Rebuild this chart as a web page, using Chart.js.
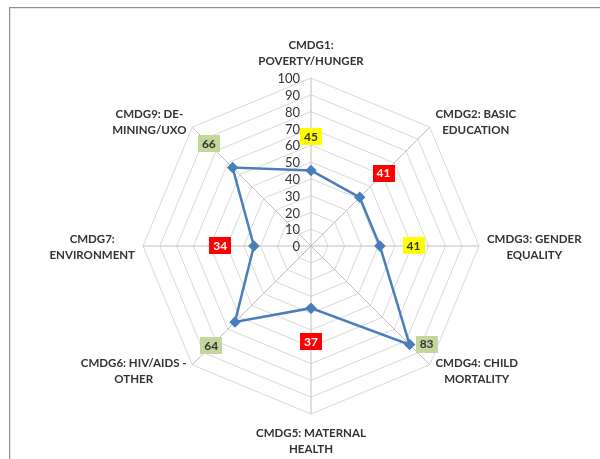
<!DOCTYPE html>
<html>
<head>
<meta charset="utf-8">
<script src="https://cdn.jsdelivr.net/npm/chart.js@4"></script>
<style>
  html, body { margin: 0; padding: 0; background: #fff; }
  #wrap { position: relative; width: 600px; height: 459px; overflow: hidden; }
  #frame { position: absolute; left: 9px; top: 7px; width: 640px; height: 500px; border: 1px solid #8e8e8e; box-shadow: inset 1px 1px 0 #e6e6e6; }
  canvas { position: absolute; left: 0; top: 0; }
</style>
</head>
<body>
<div id="wrap"><div id="frame"></div><canvas id="radar-chart" width="600" height="459"></canvas></div>
<script>
const categories = [
  ["CMDG1:", "POVERTY/HUNGER"],
  ["CMDG2: BASIC", "EDUCATION"],
  ["CMDG3: GENDER", "EQUALITY"],
  ["CMDG4: CHILD", "MORTALITY"],
  ["CMDG5: MATERNAL", "HEALTH"],
  ["CMDG6: HIV/AIDS -", "OTHER"],
  ["CMDG7:", "ENVIRONMENT"],
  ["CMDG9: DE-", "MINING/UXO"],
];
const scores = [45, 41, 41, 83, 37, 64, 34, 66];
const ratings = ["yellow", "red", "yellow", "green", "red", "green", "red", "green"];
const scaleTicks = [0, 10, 20, 30, 40, 50, 60, 70, 80, 90, 100];

// labels, ticks and value boxes drawn like the excel original
const overlay = {
  id: "overlay",
  afterDatasetsDraw(chart, args, opts) {
    const r = chart.scales.r;
    const ctx = chart.ctx;
    ctx.save();
    ctx.textBaseline = "middle";

    ctx.font = opts.tickFont;
    ctx.fillStyle = opts.textColor;
    ctx.textAlign = "right";
    r.ticks.forEach((t) => {
      const y = r.yCenter - r.getDistanceFromCenterForValue(t.value);
      ctx.fillText(String(t.value), r.xCenter - 11, y + 1);
    });

    ctx.font = opts.labelFont;
    ctx.textAlign = "center";
    chart.data.labels.forEach((lines, i) => {
      const p = r.getPointPosition(i, r.drawingArea + 8);
      const cos = Math.cos(p.angle);
      const sin = Math.sin(p.angle);
      const w = Math.max(...lines.map((s) => ctx.measureText(s).width));
      const h = lines.length * opts.lineHeight;
      let cx = p.x;
      let cy = p.y;
      if (cos > 0.1) cx += w / 2;
      else if (cos < -0.1) cx -= w / 2;
      else cy += Math.sign(sin) * (h / 2 + 2);
      lines.forEach((s, k) => {
        ctx.fillText(s, cx, cy - h / 2 + opts.lineHeight / 2 + k * opts.lineHeight + 1);
      });
    });

    const meta = chart.getDatasetMeta(0);
    ctx.font = opts.valueFont;
    chart.data.datasets[0].data.forEach((v, i) => {
      let x, y;
      if (opts.placement[i] === "right") {
        x = meta.data[i].x + 17;
        y = meta.data[i].y;
      } else {
        const p = r.getPointPositionForValue(i, v + 20);
        x = p.x;
        y = p.y;
      }
      const s = String(v);
      const tw = ctx.measureText(s).width;
      const st = opts.status[ratings[i]];
      ctx.fillStyle = st.bg;
      ctx.fillRect(Math.round(x - tw / 2 - 4), Math.round(y - 9), Math.round(tw + 8), 17);
      ctx.fillStyle = st.fg;
      ctx.fillText(s, x, y);
    });
    ctx.restore();
  },
};

new Chart(document.getElementById("radar-chart"), {
  type: "radar",
  data: {
    labels: categories,
    datasets: [
      {
        data: scores,
        borderColor: "#4a7ebb",
        backgroundColor: "#4a7ebb",
        borderWidth: 2.5,
        pointStyle: "rectRot",
        pointRadius: 4,
        pointBackgroundColor: "#4a7ebb",
        pointBorderColor: "#4a7ebb",
        fill: false,
      },
    ],
  },
  options: {
    responsive: false,
    animation: false,
    layout: {
      padding: { top: 78, bottom: 45, left: 143, right: 121 },
    },
    scales: {
      r: {
        min: 0,
        max: 100,
        afterBuildTicks: (scale) => {
          scale.ticks = scaleTicks.map((v) => ({ value: v }));
        },
        ticks: { display: false },
        pointLabels: { display: false },
        grid: { color: "#d9d9d9", lineWidth: 1 },
        angleLines: { color: "#c0c0c0", lineWidth: 1 },
      },
    },
    plugins: {
      legend: { display: false },
      title: { display: false },
      tooltip: { enabled: false },
      overlay: {
        textColor: "#333333",
        tickFont: "13px Lato",
        labelFont: "bold 11.5px Lato",
        valueFont: "bold 12px Lato",
        lineHeight: 16,
        placement: ["out", "out", "out", "right", "out", "out", "out", "out"],
        status: {
          yellow: { bg: "#ffff00", fg: "#333333" },
          red: { bg: "#ff0000", fg: "#ffffff" },
          green: { bg: "#c3d69b", fg: "#333333" },
        },
      },
    },
  },
  plugins: [overlay],
});
</script>
</body>
</html>
